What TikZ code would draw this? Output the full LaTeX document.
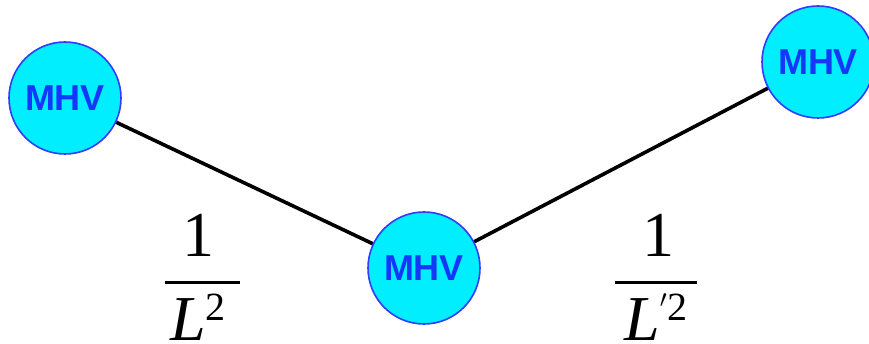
\documentclass[tikz,border=0pt]{standalone}
\usepackage{fontspec}
\setmainfont{Liberation Serif}
\newfontfamily\mhvfont{Liberation Sans}
\definecolor{vfill}{RGB}{0,238,255}
\definecolor{vline}{RGB}{50,60,255}
\definecolor{vtext}{RGB}{20,55,250}
\newcommand{\supsc}[1]{\raisebox{20pt}{\fontsize{40}{40}\selectfont #1}}
\newcommand{\primesc}{\raisebox{33pt}{\fontsize{25}{25}\selectfont$\prime$\kern1pt}}
\begin{document}
\begin{tikzpicture}[x=1pt,y=1pt,
  vertex/.style={circle, draw=vline, line width=1.6pt, fill=vfill,
    minimum size=112pt, inner sep=0pt,
    font=\mhvfont\bfseries\fontsize{36}{36}\selectfont, text=vtext},
  prop/.style={line width=3.6pt, black},
  fracnum/.style={anchor=base, inner sep=0pt, font=\fontsize{64}{64}\selectfont},
  fracbar/.style={line width=3pt}]
\useasboundingbox (0,0) rectangle (869,344);
% propagator lines between the vertices
\coordinate (cl) at (65,246);
\coordinate (cm) at (424,76);
\coordinate (cr) at (818,282);
\draw[prop] (cl) -- (cm) -- (cr);
% MHV vertices
\node[vertex] (v1) at (cl) {MHV};
\node[vertex] (v2) at (cm) {MHV};
\node[vertex] (v3) at (cr) {MHV};
% first propagator 1/L^2
\node[fracnum] (n1) at (198,87) {1};
\coordinate (b1l) at (165,61);
\coordinate (b1r) at (240,61);
\draw[fracbar] (b1l) -- (b1r);
\node[fracnum] (d1) at (198,3) {\textit{L}\supsc{2}};
% second propagator 1/L'^2
\node[fracnum] (n2) at (658,87) {1};
\coordinate (b2l) at (615,61);
\coordinate (b2r) at (697,61);
\draw[fracbar] (b2l) -- (b2r);
\node[fracnum] (d2) at (656,3) {\textit{L}\primesc\supsc{2}};
\end{tikzpicture}
\end{document}
